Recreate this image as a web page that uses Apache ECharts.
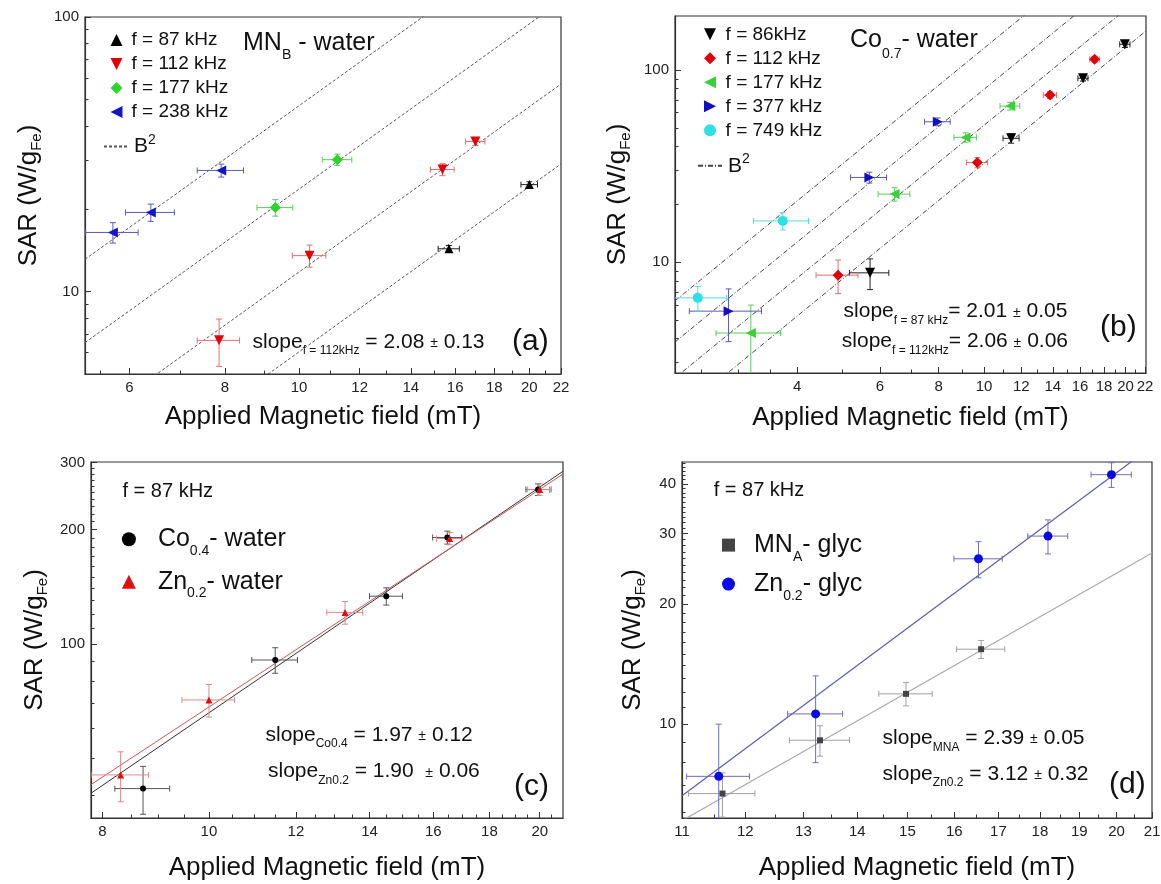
<!DOCTYPE html>
<html><head><meta charset="utf-8">
<script src="https://cdn.jsdelivr.net/npm/echarts@6/dist/echarts.min.js"></script>
<style>html,body{margin:0;padding:0;background:#fff}#c{width:1161px;height:884px}</style>
</head><body><div id="c"></div>
<script>
const FONT = "'Liberation Sans', Arial, Helvetica, sans-serif";

// ---------- Panel (a): MN_B - water ----------
const a87X  = [15.7, 20.0],              a87Y  = [14.3, 24.5];
const a87Xe = [0.5, 0.5],                a87Ye = [0.4, 0.6];
const a112X = [7.86, 10.32, 15.4, 17.0], a112Y = [6.63, 13.5, 27.8, 35.2];
const a112Xe= [0.5, 0.52, 0.55, 0.5],    a112Ye= [1.3, 1.25, 1.4, 1.2];
const a177X = [9.31, 11.22],             a177Y = [20.2, 30.2];
const a177Xe= [0.5, 0.5],                a177Ye= [1.4, 1.45];
const a238X = [5.71, 6.40, 7.91],        a238Y = [16.4, 19.4, 27.6];
const a238Xe= [0.45, 0.47, 0.55],        a238Ye= [1.4, 1.4, 1.5];
const aB2Coef = [0.475, 0.236, 0.1177, 0.0602];
const aLegend = ['f = 87 kHz', 'f = 112 kHz', 'f = 177 kHz', 'f = 238 kHz'];
const aXRange = [5.25, 22], aYRange = [5, 100];
const aXTicks = [6, 8, 10, 12, 14, 16, 18, 20, 22], aXMinor = [5.5, 7, 9, 11, 13, 15, 17, 19, 21];
const aYTicks = [10, 100], aYMinor = [6, 7, 8, 9, 20, 30, 40, 50, 60, 70, 80, 90];

// ---------- Panel (b): Co0.7 - water ----------
const b86X  = [5.72, 11.42, 16.23, 19.93], b86Y  = [8.8, 44.1, 90.6, 136];
const b86Xe = [0.55, 0.45, 0.4, 0.5],      b86Ye = [1.6, 2.5, 3, 5];
const b112X = [4.89, 9.67, 13.81, 17.18],  b112Y = [8.56, 33.0, 74.1, 113.7];
const b112Xe= [0.5, 0.5, 0.45, 0.4],       b112Ye= [1.7, 2, 3, 4];
const b177X = [3.19, 6.45, 9.13, 11.36],   b177Y = [4.28, 22.6, 44.6, 64.9];
const b177Xe= [0.5, 0.5, 0.5, 0.55],       b177Ye= [1.7, 1.8, 2.5, 3];
const b377X = [2.86, 5.70, 7.97],          b377Y = [5.56, 27.6, 53.8];
const b377Xe= [0.5, 0.5, 0.5],             b377Ye= [1.7, 1.8, 2.5];
const b749X = [2.46, 3.73],                b749Y = [6.52, 16.4];
const b749Xe= [0.37, 0.5],                 b749Ye= [0.95, 1.7];
const bB2Coef = [1.3, 0.794, 0.516, 0.327];
const bLegend = ['f = 86kHz', 'f = 112 kHz', 'f = 177 kHz', 'f = 377 kHz', 'f = 749 kHz'];
const bXRange = [2.2, 22.1], bYRange = [2.65, 191];
const bXTicks = [4, 6, 8, 10, 12, 14, 16, 18, 20, 22], bXMinor = [2.5, 3, 3.5, 5, 7, 9, 11, 13, 15, 17, 19, 21];
const bYTicks = [10, 100], bYMinor = [3, 4, 5, 6, 7, 8, 9, 20, 30, 40, 50, 60, 70, 80, 90];

// ---------- Panel (c): f = 87 kHz, water ----------
const cCoX  = [8.71, 11.49, 14.5, 16.48, 19.93], cCoY  = [41.7, 90.8, 133.6, 190.6, 254.7];
const cCoXe = [0.5, 0.55, 0.5, 0.5, 0.5],        cCoYe = [6, 7, 7, 7.5, 9];
const cZnX  = [8.31, 10.0, 13.3, 16.56, 20.0],   cZnY  = [45.3, 71.3, 121.1, 189.4, 255];
const cZnXe = [0.5, 0.55, 0.5, 0.45, 0.5],       cZnYe = [6.8, 7, 8.3, 7, 9];
const cFitSlope = [1.97, 1.90], cFitLogA = [-0.1506, -0.0654];
const cXRange = [7.81, 21], cYRange = [34.9, 301];
const cXTicks = [8, 10, 12, 14, 16, 18, 20];
const cXMinor = [8.5, 9, 9.5, 10.5, 11, 11.5, 12.5, 13, 13.5, 14.5, 15, 15.5, 16.5, 17, 17.5, 18.5, 19, 19.5, 20.5];
const cYTicks = [100, 200, 300];
const cYMinor = [40, 50, 60, 70, 80, 90, 110, 120, 130, 140, 150, 160, 170, 180, 190, 210, 220, 230, 240, 250, 260, 270, 280, 290];

// ---------- Panel (d): f = 87 kHz, glycerol ----------
const dZnX  = [11.57, 13.22, 16.54, 18.2, 19.86], dZnY  = [7.39, 10.6, 25.96, 29.6, 42.2];
const dZnXe = [0.5, 0.5, 0.55, 0.5, 0.55],        dZnYe = [2.6, 2.6, 2.7, 2.9, 3];
const dMNX  = [11.63, 13.3, 14.97, 16.6],         dMNY  = [6.69, 9.1, 11.9, 15.4];
const dMNXe = [0.53, 0.55, 0.55, 0.55],           dMNYe = [0.85, 0.8, 0.8, 0.8];
const dFitSlope = [2.39, 3.12], dFitLogA = [-1.7315, -2.429];
const dXRange = [11, 21], dYRange = [5.81, 45.4];
const dXTicks = [11, 12, 13, 14, 15, 16, 17, 18, 19, 20, 21];
const dXMinor = [11.5, 12.5, 13.5, 14.5, 15.5, 16.5, 17.5, 18.5, 19.5, 20.5];
const dYTicks = [10, 20, 30, 40];
const dYMinor = [6, 7, 8, 9, 11, 12, 13, 14, 15, 16, 17, 18, 19, 21, 22, 23, 24, 25, 26, 27, 28, 29, 31, 32, 33, 34, 35, 36, 37, 38, 39, 41, 42, 43, 44, 45];

// ---------- helpers ----------
const TRI_DOWN = 'path://M0,0L10,0L5,10Z';
const TRI_LEFT = 'path://M10,0L10,10L0,5Z';
const TRI_RIGHT = 'path://M0,0L0,10L10,5Z';
const fmt = v => String(Math.round(v * 100) / 100);

// rich-text token factory: main text centred, sub/superscript shifted by padding
function tok(size, color, key, shift) {
  const o = { fontFamily: FONT, fontSize: size, lineHeight: Math.round(size * 1.2), verticalAlign: 'middle' };
  o[key] = color;
  if (shift > 0) o.padding = [2 * shift, 0, 0, 0];
  if (shift < 0) o.padding = [0, 0, -2 * shift, 0];
  return o;
}

function xAxes(gi, range, majors, minors, gap) {
  return [{
    type: 'log', logBase: 10, gridIndex: gi, min: range[0], max: range[1], position: 'bottom',
    name: 'Applied Magnetic field (mT)', nameLocation: 'middle', nameGap: gap,
    nameTextStyle: { fontFamily: FONT, fontSize: 26, color: '#111' },
    axisLine: { show: true, onZero: false, lineStyle: { color: '#333', width: 1.2 } },
    axisTick: { show: true, inside: true, length: 6, customValues: majors, lineStyle: { color: '#333' } },
    axisLabel: { show: true, customValues: majors, formatter: fmt, fontFamily: FONT, fontSize: 15, color: '#222', margin: 6, hideOverlap: false },
    splitLine: { show: false }, minorTick: { show: false }, minorSplitLine: { show: false }
  }, {
    type: 'log', logBase: 10, gridIndex: gi, min: range[0], max: range[1], position: 'bottom',
    axisLine: { show: false },
    axisTick: { show: true, inside: true, length: 3.5, customValues: minors, lineStyle: { color: '#333' } },
    axisLabel: { show: false }, splitLine: { show: false }
  }];
}
const Y_RICH = { m: tok(26, '#111', 'color', 0), s: tok(15, '#111', 'color', 8) };
function yAxes(gi, range, majors, minors, gap) {
  return [{
    type: 'log', logBase: 10, gridIndex: gi, min: range[0], max: range[1], position: 'left',
    name: '{m|SAR (W/g}{s|Fe}{m|)}', nameLocation: 'middle', nameGap: gap, nameRotate: 90,
    nameTextStyle: { rich: Y_RICH },
    axisLine: { show: true, onZero: false, lineStyle: { color: '#333', width: 1.2 } },
    axisTick: { show: true, inside: true, length: 6, customValues: majors, lineStyle: { color: '#333' } },
    axisLabel: { show: true, customValues: majors, formatter: fmt, fontFamily: FONT, fontSize: 15, color: '#222', margin: 6, hideOverlap: false },
    splitLine: { show: false }, minorTick: { show: false }, minorSplitLine: { show: false }
  }, {
    type: 'log', logBase: 10, gridIndex: gi, min: range[0], max: range[1], position: 'left',
    axisLine: { show: false },
    axisTick: { show: true, inside: true, length: 3.5, customValues: minors, lineStyle: { color: '#333' } },
    axisLabel: { show: false }, splitLine: { show: false }
  }];
}
function pts(gi, name, X, Y, symbol, size, color) {
  return { type: 'scatter', name, xAxisIndex: 2 * gi, yAxisIndex: 2 * gi, silent: true, z: 5,
    data: X.map((x, i) => [x, Y[i]]), symbol, symbolSize: size, itemStyle: { color, opacity: 1 } };
}
function errs(gi, X, Y, XE, YE, color) {
  return { type: 'custom', xAxisIndex: 2 * gi, yAxisIndex: 2 * gi, clip: true, silent: true, z: 3,
    data: X.map((x, i) => [x, Y[i], XE[i], YE[i]]), encode: { x: 0, y: 1 },
    renderItem(params, api) {
      const x = api.value(0), y = api.value(1), dx = api.value(2), dy = api.value(3);
      const L = api.coord([x - dx, y]), R = api.coord([x + dx, y]);
      const T = api.coord([x, y + dy]), B = api.coord([x, y - dy]);
      const c = 3, st = { stroke: color, lineWidth: 1 };
      const ln = (x1, y1, x2, y2) => ({ type: 'line', shape: { x1, y1, x2, y2 }, style: st });
      return { type: 'group', children: [
        ln(L[0], L[1], R[0], R[1]), ln(T[0], T[1], B[0], B[1]),
        ln(L[0], L[1] - c, L[0], L[1] + c), ln(R[0], R[1] - c, R[0], R[1] + c),
        ln(T[0] - c, T[1], T[0] + c, T[1]), ln(B[0] - c, B[1], B[0] + c, B[1])
      ] };
    } };
}
function powLine(gi, name, logA, k, xr, color, type, width) {
  return { type: 'line', name, xAxisIndex: 2 * gi, yAxisIndex: 2 * gi, silent: true, z: 2, clip: true,
    symbol: 'none', lineStyle: { color, width, type }, itemStyle: { color },
    data: xr.map(x => [x, Math.pow(10, logA) * Math.pow(x, k)]) };
}

const LABELS = {
  a87: aLegend[0], a112: aLegend[1], a177: aLegend[2], a238: aLegend[3],
  b86: bLegend[0], b112: bLegend[1], b177: bLegend[2], b377: bLegend[3], b749: bLegend[4],
  aB2: '{b|B}{p|2}', bB2: '{b|B}{p|2}',
  cCo: '{m|Co}{s|0.4}{m|- water}', cZn: '{m|Zn}{s|0.2}{m|- water}',
  dMN: '{m|MN}{s|A}{m|- glyc}', dZn: '{m|Zn}{s|0.2}{m|- glyc}'
};
const C_RICH = { m: Object.assign(tok(25, '#111', 'color', 0), { lineHeight: 30 }), s: tok(14, '#111', 'color', 11.7) };
const D_RICH = { m: Object.assign(tok(25, '#111', 'color', 0), { lineHeight: 30 }), s: tok(14, '#111', 'color', 12.5) };
const B2_RICH = { b: Object.assign(tok(21, '#111', 'color', 0), { lineHeight: 24 }), p: tok(14, '#111', 'color', -6.5) };

function legendSmall(data, left, top, padLeft) {
  return { data, orient: 'vertical', left, top, padding: 0, itemWidth: 12, itemHeight: 12, itemGap: 0,
    selectedMode: false, formatter: n => LABELS[n],
    textStyle: { fontFamily: FONT, fontSize: 19, lineHeight: 24, color: '#111', padding: [0, 0, 0, padLeft] } };
}
function legendB2(name, left, top) {
  return { data: [name], left, top, padding: 0, itemWidth: 24, itemHeight: 12, selectedMode: false,
    itemStyle: { color: 'rgba(0,0,0,0)', borderWidth: 0, opacity: 0 },
    formatter: n => LABELS[n], textStyle: { rich: B2_RICH, padding: [0, 0, 0, 1] } };
}
function legendBig(data, left, top, w, gap, padLeft, rich) {
  return { data, orient: 'vertical', left, top, padding: 0, itemWidth: w, itemHeight: w, itemGap: gap,
    selectedMode: false, formatter: n => LABELS[n],
    textStyle: { rich, padding: [0, 0, 0, padLeft] } };
}

// annotation texts (graphic, zrender style names)
function slopeRich() {
  return { m: tok(21, '#111', 'fill', 0), s: tok(12, '#111', 'fill', 9), pm: tok(14, '#111', 'fill', 1) };
}
function titleRich(shift) {
  return { m: tok(25, '#111', 'fill', 0), s: tok(14, '#111', 'fill', shift) };
}
function txt(x, y, text, rich) {
  return { type: 'text', x, y, silent: true, style: { text, rich, align: 'left', verticalAlign: 'middle' } };
}
function plain(x, y, text, size) {
  return { type: 'text', x, y, silent: true, style: { text, fontFamily: FONT, fontSize: size, fill: '#111', align: 'left', verticalAlign: 'middle' } };
}

const grids = [
  { left: 85, top: 17, width: 476, height: 357 },
  { left: 675, top: 16, width: 471, height: 357 },
  { left: 91, top: 462, width: 472, height: 356 },
  { left: 682, top: 462, width: 470, height: 356 }
].map(g => Object.assign(g, { show: true, borderColor: '#333', borderWidth: 1.2, backgroundColor: 'transparent', containLabel: false, outerBoundsMode: 'none' }));

const series = [];
// (a)
aB2Coef.forEach(c => series.push(powLine(0, 'aB2', Math.log10(c), 2, aXRange, '#555', [3, 2], 1)));
series.push(errs(0, a87X, a87Y, a87Xe, a87Ye, '#222'), pts(0, 'a87', a87X, a87Y, 'triangle', 9, '#000'));
series.push(errs(0, a112X, a112Y, a112Xe, a112Ye, '#e07070'), pts(0, 'a112', a112X, a112Y, TRI_DOWN, 10, '#e3000b'));
series.push(errs(0, a177X, a177Y, a177Xe, a177Ye, '#5ccc5c'), pts(0, 'a177', a177X, a177Y, 'diamond', 11, '#2ad42a'));
series.push(errs(0, a238X, a238Y, a238Xe, a238Ye, '#5a5ab8'), pts(0, 'a238', a238X, a238Y, TRI_LEFT, 10, '#1414c8'));
// (b)
bB2Coef.forEach(c => series.push(powLine(1, 'bB2', Math.log10(c), 2, bXRange, '#444', [5, 2, 1, 2], 1)));
series.push(errs(1, b86X, b86Y, b86Xe, b86Ye, '#222'), pts(1, 'b86', b86X, b86Y, TRI_DOWN, 10, '#000'));
series.push(errs(1, b112X, b112Y, b112Xe, b112Ye, '#e07070'), pts(1, 'b112', b112X, b112Y, 'diamond', 11, '#e3000b'));
series.push(errs(1, b177X, b177Y, b177Xe, b177Ye, '#5ccc5c'), pts(1, 'b177', b177X, b177Y, TRI_LEFT, 10, '#36d236'));
series.push(errs(1, b377X, b377Y, b377Xe, b377Ye, '#5a5ab8'), pts(1, 'b377', b377X, b377Y, TRI_RIGHT, 10, '#1010c0'));
series.push(errs(1, b749X, b749Y, b749Xe, b749Ye, '#55dde0'), pts(1, 'b749', b749X, b749Y, 'circle', 10, '#2de0e6'));
// (c)
series.push(powLine(2, 'cCoFit', cFitLogA[0], cFitSlope[0], cXRange, '#333', 'solid', 1));
series.push(powLine(2, 'cZnFit', cFitLogA[1], cFitSlope[1], cXRange, '#c85a5a', 'solid', 1));
series.push(errs(2, cCoX, cCoY, cCoXe, cCoYe, '#555'), pts(2, 'cCo', cCoX, cCoY, 'circle', 6, '#000'));
series.push(errs(2, cZnX, cZnY, cZnXe, cZnYe, '#e08a8a'), pts(2, 'cZn', cZnX, cZnY, 'triangle', 7, '#dd1111'));
// (d)
series.push(powLine(3, 'dMNFit', dFitLogA[0], dFitSlope[0], dXRange, '#aaaaaa', 'solid', 1.2));
series.push(powLine(3, 'dZnFit', dFitLogA[1], dFitSlope[1], dXRange, '#5c5cb0', 'solid', 1.2));
series.push(errs(3, dMNX, dMNY, dMNXe, dMNYe, '#a0a0a0'), pts(3, 'dMN', dMNX, dMNY, 'rect', 6, '#444'));
series.push(errs(3, dZnX, dZnY, dZnXe, dZnYe, '#7070b8'), pts(3, 'dZn', dZnX, dZnY, 'circle', 9, '#0a0ae6'));

const option = {
  animation: false,
  backgroundColor: '#fff',
  grid: grids,
  xAxis: [].concat(xAxes(0, aXRange, aXTicks, aXMinor, 30), xAxes(1, bXRange, bXTicks, bXMinor, 32),
                   xAxes(2, cXRange, cXTicks, cXMinor, 37), xAxes(3, dXRange, dXTicks, dXMinor, 37)),
  yAxis: [].concat(yAxes(0, aYRange, aYTicks, aYMinor, 41), yAxes(1, bYRange, bYTicks, bYMinor, 42),
                   yAxes(2, cYRange, cYTicks, cYMinor, 41), yAxes(3, dYRange, dYTicks, dYMinor, 34)),
  legend: [
    legendSmall(['a87', 'a112', 'a177', 'a238'], 110.5, 28, 4),
    legendB2('aB2', 103, 133),
    legendSmall(['b86', 'b112', 'b177', 'b377', 'b749'], 704, 22.3, 4.6),
    legendB2('bB2', 697, 152.3),
    legendBig(['cCo', 'cZn'], 121.9, 520.5, 14, 5.2, 17, C_RICH),
    legendBig(['dMN', 'dZn'], 722, 525.6, 13, 0, 14, D_RICH)
  ],
  graphic: [
    txt(243, 43, '{m|MN}{s|B}{m| - water}', titleRich(11.7)),
    txt(252.5, 342, '{m|slope}{s|f = 112kHz}{m| = 2.08 }{pm|±}{m| 0.13}', slopeRich()),
    plain(512, 342, '(a)', 30),
    txt(850, 40, '{m|Co}{s|0.7}{m|- water}', titleRich(14)),
    txt(843.6, 311.7, '{m|slope}{s|f = 87 kHz}{m|= 2.01 }{pm|±}{m| 0.05}', slopeRich()),
    txt(841.8, 341.7, '{m|slope}{s|f = 112kHz}{m|= 2.06 }{pm|±}{m| 0.06}', slopeRich()),
    plain(1100, 328, '(b)', 30),
    plain(122.5, 491.7, 'f = 87 kHz', 20),
    txt(265.5, 735, '{m|slope}{s|Co0.4}{m| = 1.97 }{pm|±}{m| 0.12}', slopeRich()),
    txt(268, 771.7, '{m|slope}{s|Zn0.2}{m| = 1.90  }{pm|±}{m| 0.06}', slopeRich()),
    plain(514, 786.7, '(c)', 30),
    plain(713.7, 490, 'f = 87 kHz', 20),
    txt(882.6, 738.3, '{m|slope}{s|MNA}{m| = 2.39 }{pm|±}{m| 0.05}', slopeRich()),
    txt(882.6, 774, '{m|slope}{s|Zn0.2}{m| = 3.12 }{pm|±}{m| 0.32}', slopeRich()),
    plain(1109, 785, '(d)', 30)
  ],
  series
};
const chart = echarts.init(document.getElementById('c'), null, { renderer: 'canvas' });
chart.setOption(option);
</script>
</body></html>
